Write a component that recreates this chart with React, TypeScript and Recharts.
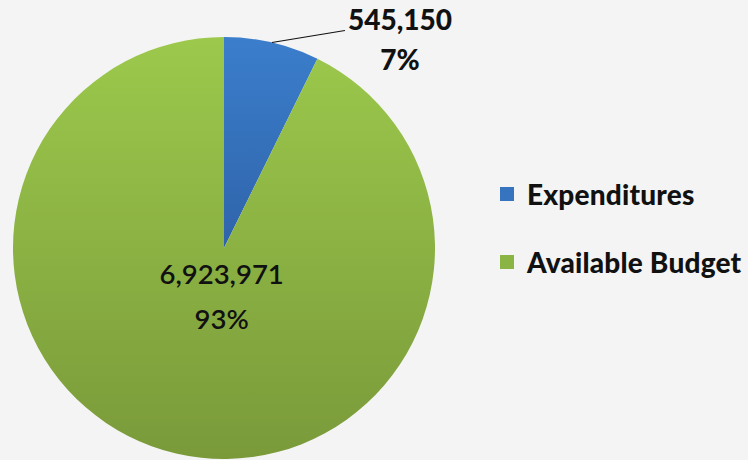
import { PieChart, Pie, Cell, Legend } from "recharts";

const categories = ["Expenditures", "Available Budget"];
const amounts = [545150, 6923971];
const percentLabels = ["7%", "93%"];
const fills = ["url(#gradBlue)", "url(#gradGreen)"];
const swatches = ["#3674c0", "#8ab443"];

const data = categories.map((name, i) => ({ name, value: amounts[i], pct: percentLabels[i] }));

const RAD = Math.PI / 180;
const FONT = "Lato, 'Open Sans', sans-serif";

function renderLabel(props: any) {
  const { cx, cy, midAngle, outerRadius, index } = props;
  const d = data[index];
  const text = d.value.toLocaleString("en-US");
  if (index === 0) {
    const sx = cx + outerRadius * Math.cos(-midAngle * RAD);
    const sy = cy + outerRadius * Math.sin(-midAngle * RAD);
    const ex = sx + 73;
    const ey = sy - 12;
    return (
      <g>
        <path d={`M${sx},${sy}L${ex},${ey}`} stroke="#111" strokeWidth={1.2} fill="none" />
        <text x={ex + 55} y={ey - 1} textAnchor="middle" fontFamily={FONT} fontWeight={900} fontSize={28} fill="#111">
          {text}
        </text>
        <text x={ex + 55} y={ey + 39} textAnchor="middle" fontFamily={FONT} fontWeight={900} fontSize={28} fill="#111">
          {d.pct}
        </text>
      </g>
    );
  }
  const r = 50;
  const x = cx + r * Math.cos(-midAngle * RAD);
  const y = cy + r * Math.sin(-midAngle * RAD);
  return (
    <g>
      <text x={x + 9} y={y - 13} textAnchor="middle" fontFamily={FONT} fontWeight={600} fontSize={27.5} fill="#111">
        {text}
      </text>
      <text x={x + 9} y={y + 32} textAnchor="middle" fontFamily={FONT} fontWeight={600} fontSize={27.5} fill="#111">
        {d.pct}
      </text>
    </g>
  );
}

function renderLegend() {
  return (
    <div style={{ fontFamily: FONT }}>
      {categories.map((c, i) => (
        <div key={c} style={{ display: "flex", alignItems: "center", height: 34, marginBottom: i === 0 ? 34 : 0 }}>
          <span style={{ display: "inline-block", width: 14, height: 14, background: swatches[i], marginRight: 13 }} />
          <span style={{ fontSize: 28, fontWeight: 900, color: "#111", whiteSpace: "nowrap", letterSpacing: 0.2 }}>{c}</span>
        </div>
      ))}
    </div>
  );
}

export default function App() {
  return (
    <div style={{ position: "absolute", left: 0, top: 0, width: 748, height: 460, background: "#f4f4f4", overflow: "hidden" }}>
      <PieChart width={748} height={460} margin={{ top: 0, right: 0, bottom: 0, left: 0 }}>
        <defs>
          <linearGradient id="gradBlue" x1="0" y1="0" x2="0" y2="1">
            <stop offset="0%" stopColor="#3b7ecc" />
            <stop offset="100%" stopColor="#2f64aa" />
          </linearGradient>
          <linearGradient id="gradGreen" x1="0" y1="0" x2="0" y2="1">
            <stop offset="0%" stopColor="#9cc94c" />
            <stop offset="100%" stopColor="#7a9a3a" />
          </linearGradient>
        </defs>
        <Pie
          data={data}
          dataKey="value"
          nameKey="name"
          cx={224}
          cy={248}
          outerRadius={211}
          startAngle={90}
          endAngle={-270}
          stroke="none"
          label={renderLabel}
          labelLine={false}
          isAnimationActive={false}
        >
          {data.map((d, i) => (
            <Cell key={d.name} fill={fills[i]} />
          ))}
        </Pie>
        <Legend
          layout="vertical"
          content={renderLegend}
          wrapperStyle={{ position: "absolute", left: 500, top: 177, width: 248 }}
        />
      </PieChart>
    </div>
  );
}
